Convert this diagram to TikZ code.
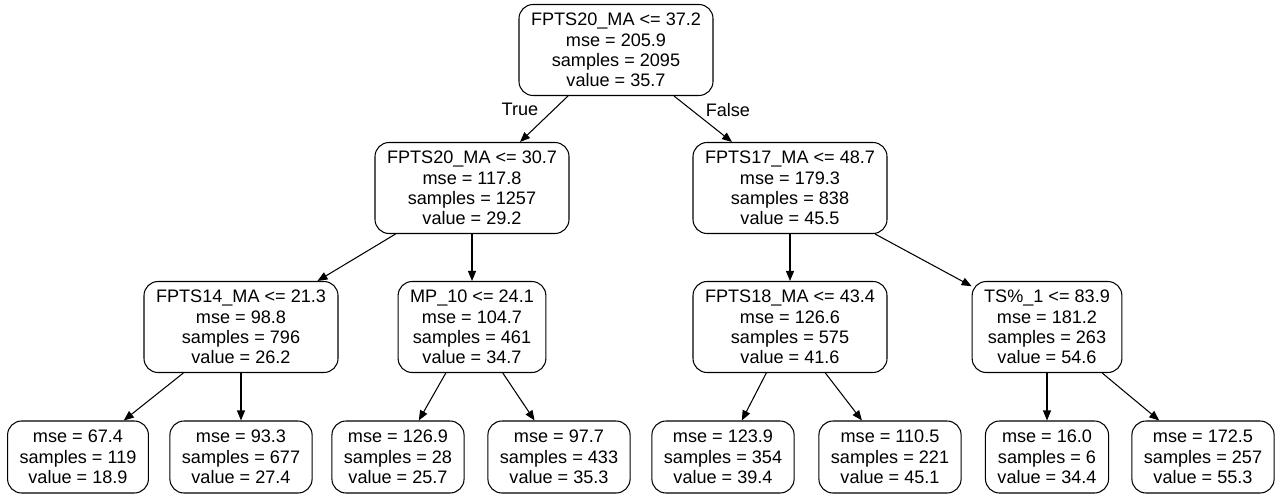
\documentclass[tikz,border=0pt]{standalone}
\usepackage{fontspec}
\setmainfont{Liberation Sans}
\usetikzlibrary{arrows.meta}
\tikzset{
  node-split/.style={draw,line width=0.6pt,rounded corners=8pt,
    minimum height=1.82cm,inner xsep=0.24cm,align=center,
    font=\fontsize{10.3}{11.6}\selectfont},
  node-leaf/.style={node-split,minimum height=1.44cm},
  arrow/.style={-{Triangle[length=2mm,width=1.6mm]},line width=0.6pt},
  edge-label/.style={font=\fontsize{10.3}{12}\selectfont},
}

\begin{document}
\begin{tikzpicture}[x=0.02cm,y=-0.02cm]
  \useasboundingbox (0,0) rectangle (1280,497);
  % splits
  \node[node-split] (root) at (616,50) {FPTS20\_MA <= 37.2\\mse = 205.9\\samples = 2095\\value = 35.7};
  \node[node-split] (fa) at (472,188) {FPTS20\_MA <= 30.7\\mse = 117.8\\samples = 1257\\value = 29.2};
  \node[node-split] (fb) at (790,188) {FPTS17\_MA <= 48.7\\mse = 179.3\\samples = 838\\value = 45.5};
  \node[node-split] (sa) at (241,327) {FPTS14\_MA <= 21.3\\mse = 98.8\\samples = 796\\value = 26.2};
  \node[node-split] (sb) at (472,327) {MP\_10 <= 24.1\\mse = 104.7\\samples = 461\\value = 34.7};
  \node[node-split] (sc) at (790,327) {FPTS18\_MA <= 43.4\\mse = 126.6\\samples = 575\\value = 41.6};
  \node[node-split] (sd) at (1047,327) {TS\%\_1 <= 83.9\\mse = 181.2\\samples = 263\\value = 54.6};
  % leaves
  \node[node-leaf] (leaf1) at (78,457) {mse = 67.4\\samples = 119\\value = 18.9};
  \node[node-leaf] (leaf2) at (241,457) {mse = 93.3\\samples = 677\\value = 27.4};
  \node[node-leaf] (leaf3) at (398,457) {mse = 126.9\\samples = 28\\value = 25.7};
  \node[node-leaf] (leaf4) at (559,457) {mse = 97.7\\samples = 433\\value = 35.3};
  \node[node-leaf] (leaf5) at (723,457) {mse = 123.9\\samples = 354\\value = 39.4};
  \node[node-leaf] (leaf6) at (890,457) {mse = 110.5\\samples = 221\\value = 45.1};
  \node[node-leaf] (leaf7) at (1047,457) {mse = 16.0\\samples = 6\\value = 34.4};
  \node[node-leaf] (leaf8) at (1203,457) {mse = 172.5\\samples = 257\\value = 55.3};
  % edges
  \draw[arrow] (root) -- node[pos=.3,left=1.8mm,edge-label]{True} (fa);
  \draw[arrow] (root) -- node[pos=.3,right=1.6mm,edge-label]{False} (fb);
  \draw[arrow] (fa) -- (sa);
  \draw[arrow] (fa) -- (sb);
  \draw[arrow] (fb) -- (sc);
  \draw[arrow] (fb) -- (sd);
  \draw[arrow] (sa) -- (leaf1);
  \draw[arrow] (sa) -- (leaf2);
  \draw[arrow] (sb) -- (leaf3);
  \draw[arrow] (sb) -- (leaf4);
  \draw[arrow] (sc) -- (leaf5);
  \draw[arrow] (sc) -- (leaf6);
  \draw[arrow] (sd) -- (leaf7);
  \draw[arrow] (sd) -- (leaf8);
\end{tikzpicture}
\end{document}
